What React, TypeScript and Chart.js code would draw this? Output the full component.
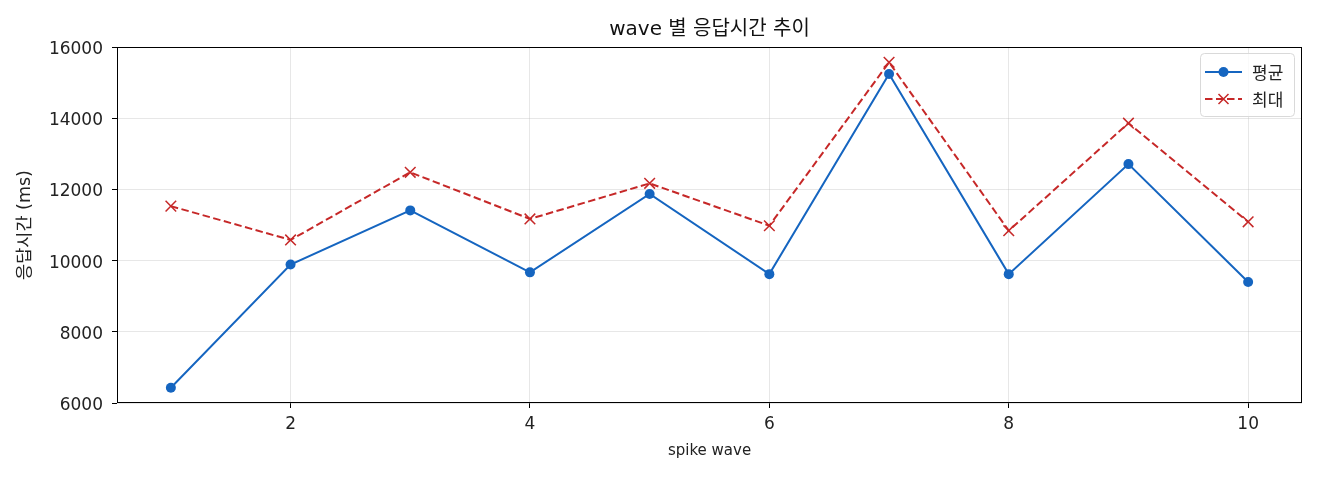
import React, { useEffect, useRef } from "react";
import { Chart, registerables } from "chart.js";

Chart.register(...registerables);

const waves = [1, 2, 3, 4, 5, 6, 7, 8, 9, 10];
const avgValues = [6430, 9890, 11410, 9670, 11870, 9620, 15240, 9620, 12710, 9400];
const maxValues = [11530, 10580, 12480, 11170, 12170, 10980, 15570, 10840, 13860, 11090];
const xTicks = [2, 4, 6, 8, 10];
const yTicks = [6000, 8000, 10000, 12000, 14000, 16000];

const titleText = "wave 별 응답시간 추이";
const xTitle = "spike wave";
const yTitle = "응답시간 (ms)";
const avgLabel = "평균";
const maxLabel = "최대";

const BLUE = "#1565c0";
const RED = "#c62828";
const FONT = "'DejaVu Sans', 'Noto Sans CJK KR', sans-serif";
const KFONT = "'Noto Sans CJK KR', 'DejaVu Sans', sans-serif";

const titlePlugin = {
  id: "areaTitle",
  afterDraw(chart: any) {
    const ctx = chart.ctx;
    const a = chart.chartArea;
    ctx.save();
    ctx.fillStyle = "#111";
    ctx.font = `20px ${FONT}`;
    ctx.textAlign = "center";
    ctx.textBaseline = "middle";
    ctx.fillText(titleText, (a.left + a.right) / 2, 30);
    ctx.restore();
  },
};

const legendPlugin = {
  id: "innerLegend",
  afterDraw(chart: any) {
    const ctx = chart.ctx;
    const area = chart.chartArea;
    const w = 94;
    const h = 63;
    const x = area.right - 8 - w;
    const y = area.top + 6;
    ctx.save();
    ctx.fillStyle = "rgba(255,255,255,0.8)";
    ctx.strokeStyle = "#d9d9d9";
    ctx.lineWidth = 1;
    ctx.beginPath();
    (ctx as any).roundRect(x + 0.5, y + 0.5, w, h, 4);
    ctx.fill();
    ctx.stroke();
    const rows = chart.data.datasets.map((d: any, i: number) => ({ d, cy: y + 19 + i * 27 }));
    rows.forEach(({ d, cy }: any, i: number) => {
      ctx.strokeStyle = d.borderColor;
      ctx.lineWidth = 2;
      ctx.setLineDash(d.borderDash || []);
      ctx.beginPath();
      ctx.moveTo(x + 5, cy);
      ctx.lineTo(x + 42, cy);
      ctx.stroke();
      ctx.setLineDash([]);
      const mx = x + 23.5;
      if (i === 0) {
        ctx.fillStyle = d.borderColor;
        ctx.beginPath();
        ctx.arc(mx, cy, 5, 0, Math.PI * 2);
        ctx.fill();
      } else {
        ctx.lineWidth = 1.5;
        ctx.beginPath();
        ctx.moveTo(mx - 5, cy - 5);
        ctx.lineTo(mx + 5, cy + 5);
        ctx.moveTo(mx + 5, cy - 5);
        ctx.lineTo(mx - 5, cy + 5);
        ctx.stroke();
      }
      ctx.fillStyle = "#222";
      ctx.font = `17px ${KFONT}`;
      ctx.textBaseline = "middle";
      ctx.textAlign = "left";
      ctx.fillText(d.label, x + 52, cy + 1);
    });
    ctx.restore();
  },
};

const framePlugin = {
  id: "frame",
  afterDraw(chart: any) {
    const ctx = chart.ctx;
    const a = chart.chartArea;
    ctx.save();
    ctx.strokeStyle = "#000";
    ctx.lineWidth = 1;
    ctx.strokeRect(Math.round(a.left) + 0.5, Math.round(a.top) + 0.5, Math.round(a.right - a.left) - 1, Math.round(a.bottom - a.top) - 1);
    ctx.restore();
  },
};

export default function App() {
  const ref = useRef<HTMLCanvasElement | null>(null);
  useEffect(() => {
    if (!ref.current) return;
    const chart = new Chart(ref.current, {
      type: "line",
      data: {
        datasets: [
          {
            label: avgLabel,
            data: waves.map((w, i) => ({ x: w, y: avgValues[i] })),
            borderColor: BLUE,
            backgroundColor: BLUE,
            borderWidth: 2,
            pointStyle: "circle",
            pointRadius: 5,
            pointBorderWidth: 0,
            tension: 0,
          },
          {
            label: maxLabel,
            data: waves.map((w, i) => ({ x: w, y: maxValues[i] })),
            borderColor: RED,
            backgroundColor: RED,
            borderWidth: 2,
            borderDash: [7.5, 3.5],
            pointStyle: "crossRot",
            pointRadius: 7.5,
            pointBorderWidth: 1.5,
            tension: 0,
          },
        ],
      },
      options: {
        animation: false,
        responsive: false,
        maintainAspectRatio: false,
        layout: { padding: { left: 0, right: 18, top: 47, bottom: 0 } },
        plugins: {
          legend: { display: false },
          tooltip: { enabled: false },
          title: { display: false },
        },
        scales: {
          x: {
            type: "linear",
            min: 0.55,
            max: 10.45,
            afterFit: (s: any) => {
              s.height = 77;
            },
            afterBuildTicks: (s: any) => {
              s.ticks = xTicks.map((v) => ({ value: v }));
            },
            grid: { color: "rgba(176,176,176,0.3)", tickLength: 5, tickColor: "#000" },
            border: { display: false },
            ticks: {
              color: "#222",
              font: { family: FONT, size: 17 },
              padding: 6,
              maxRotation: 0,
              callback: (v: any) => String(v),
            },
            title: {
              display: true,
              text: xTitle,
              color: "#222",
              font: { family: FONT, size: 15, lineHeight: 1.2 },
              padding: { top: 20, bottom: 20 },
            },
          },
          y: {
            type: "linear",
            min: 6000,
            max: 16000,
            afterFit: (s: any) => {
              s.width = 117;
            },
            afterBuildTicks: (s: any) => {
              s.ticks = yTicks.map((v) => ({ value: v }));
            },
            grid: { color: "rgba(176,176,176,0.3)", tickLength: 5, tickColor: "#000" },
            border: { display: false },
            ticks: {
              color: "#222",
              font: { family: FONT, size: 17, lineHeight: 0.3 },
              padding: 9,
              callback: (v: any) => ["", String(v)],
            },
            title: {
              display: true,
              text: yTitle,
              color: "#222",
              font: { family: FONT, size: 17.5, lineHeight: 1.2 },
              padding: { top: 15, bottom: 0 },
            },
          },
        },
      },
      plugins: [framePlugin, legendPlugin, titlePlugin],
    });
    return () => chart.destroy();
  }, []);
  return (
    <div style={{ position: "fixed", left: 0, top: 0, width: 1320, height: 480, background: "#fff" }}>
      <canvas ref={ref} width={1320} height={480} style={{ width: 1320, height: 480, display: "block" }} />
    </div>
  );
}
